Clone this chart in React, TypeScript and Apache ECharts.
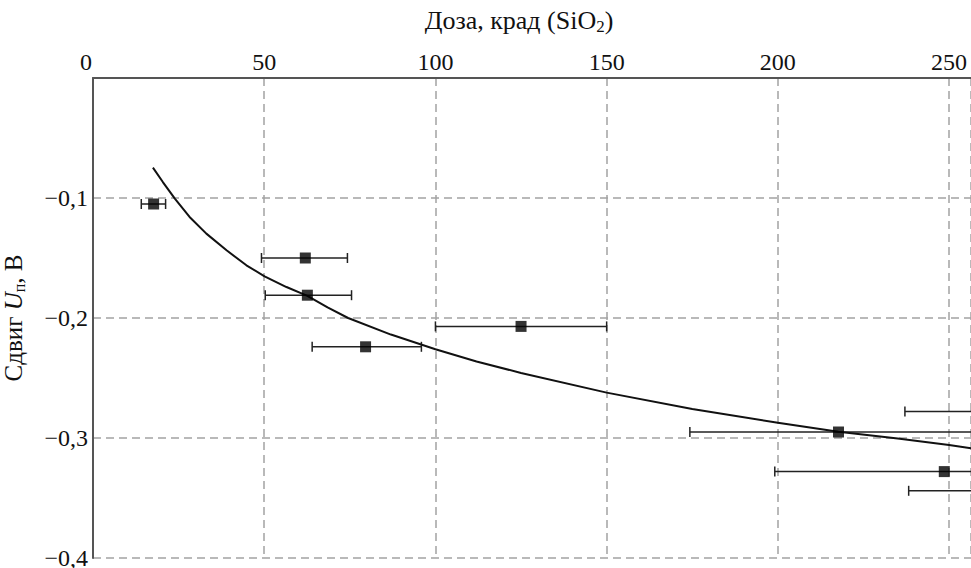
import React, { useEffect, useRef } from "react";
import * as echarts from "echarts";

// Measured points (dose, krad SiO2 ; shift, V)
const pointX = [17.7, 62.0, 62.6, 79.6, 125.0, 217.7, 248.6, 268.0, 270.0];
const pointY = [-0.105, -0.150, -0.181, -0.224, -0.207, -0.295, -0.328, -0.278, -0.344];
const errLow = [14.1, 49.2, 50.3, 64.0, 100.0, 174.3, 199.1, 237.1, 238.2];
const errHigh = [21.2, 74.3, 75.5, 95.9, 150.0, 261.0, 298.0, 299.0, 302.0];

// Fitted curve
const curveX = [17.5, 20.4, 23.9, 28.2, 33.1, 39.0, 44.8, 50.1, 56.5, 62.6, 68.5, 74.5, 87, 100, 112, 125, 150, 175, 200, 217.7, 235, 250, 256.4];
const curveY = [-0.0747, -0.0867, -0.1005, -0.1158, -0.1297, -0.1436, -0.1561, -0.1653, -0.1742, -0.1815, -0.1912, -0.2, -0.2138, -0.226, -0.2362, -0.2458, -0.2622, -0.2758, -0.2873, -0.2948, -0.3005, -0.3058, -0.3085];

const xTicks = [0, 50, 100, 150, 200, 250];
const yTicks = [-0.4, -0.3, -0.2, -0.1, 0];

const FONT = "Liberation Serif, Times New Roman, serif";

export default function App() {
  const ref = useRef<HTMLDivElement>(null);
  useEffect(() => {
    if (!ref.current) return;
    const chart = echarts.init(ref.current, null, { renderer: "svg" });
    const errData = pointX.map((x, i) => [errLow[i], errHigh[i], pointY[i]]);
    chart.setOption({
      animation: false,
      backgroundColor: "#ffffff",
      textStyle: { fontFamily: FONT },
      grid: { left: 93, top: 78, right: 0, bottom: 10, outerBoundsMode: "none", containLabel: false },
      xAxis: {
        type: "value",
        position: "top",
        min: xTicks[0],
        max: 256.4,
        interval: 50,
        name: "{a|Доза, крад (SiO}{s|2}{a|)}",
        nameLocation: "middle",
        nameGap: 43,
        nameTextStyle: {
          fontFamily: FONT,
          padding: [0, 26, 0, 0],
          rich: {
            a: { fontFamily: FONT, fontSize: 26, color: "#111", verticalAlign: "middle" },
            s: { fontFamily: FONT, fontSize: 17, color: "#111", verticalAlign: "middle", padding: [13, 0, 0, 0] },
          },
        },
        axisLine: { show: true, onZero: false, lineStyle: { color: "#555", width: 2 } },
        axisTick: { show: false },
        axisLabel: {
          showMaxLabel: false,
          margin: 4,
          fontFamily: FONT,
          fontSize: 24,
          color: "#111",
          formatter: (v: number) => {
            if (!xTicks.includes(v)) return "";
            return v === 0 ? "{z|0}" : String(v);
          },
          rich: {
            z: { fontFamily: FONT, fontSize: 24, color: "#111", padding: [0, 14, 0, 0] },
          },
        },
        splitLine: { show: true, lineStyle: { color: "#a3a3a3", width: 1.5, type: [8, 5] } },
      },
      yAxis: {
        type: "value",
        min: yTicks[0],
        max: yTicks[yTicks.length - 1],
        interval: 0.1,
        name: "{a|Сдвиг }{i|U}{s|п}{a|, В}",
        nameLocation: "middle",
        nameRotate: 90,
        nameGap: 66,
        nameTextStyle: {
          fontFamily: FONT,
          rich: {
            a: { fontFamily: FONT, fontSize: 25, color: "#111", verticalAlign: "middle" },
            i: { fontFamily: FONT, fontSize: 25, color: "#111", fontStyle: "italic", verticalAlign: "middle" },
            s: { fontFamily: FONT, fontSize: 16, color: "#111", verticalAlign: "middle", padding: [12, 0, 0, 0] },
          },
        },
        axisLine: { show: true, onZero: false, lineStyle: { color: "#555", width: 2 } },
        axisTick: { show: false },
        axisLabel: {
          margin: 5,
          fontFamily: FONT,
          fontSize: 24,
          color: "#111",
          formatter: (v: number) => {
            if (Math.abs(v) < 1e-9) return "";
            return "−" + Math.abs(v).toFixed(1).replace(".", ",");
          },
        },
        splitLine: { show: true, lineStyle: { color: "#a3a3a3", width: 1.5, type: [8, 5] } },
      },
      series: [
        {
          type: "custom",
          name: "err",
          data: errData,
          clip: true,
          z: 2,
          renderItem: (params: any, api: any) => {
            const lo = api.coord([api.value(0), api.value(2)]);
            const hi = api.coord([api.value(1), api.value(2)]);
            const h = 5;
            const style = { stroke: "#222", lineWidth: 1.5, fill: "none" };
            return {
              type: "group",
              children: [
                { type: "line", shape: { x1: lo[0], y1: lo[1], x2: hi[0], y2: hi[1] }, style },
                { type: "line", shape: { x1: lo[0], y1: lo[1] - h, x2: lo[0], y2: lo[1] + h }, style },
                { type: "line", shape: { x1: hi[0], y1: hi[1] - h, x2: hi[0], y2: hi[1] + h }, style },
              ],
            };
          },
        },
        {
          type: "line",
          name: "fit",
          data: curveX.map((x, i) => [x, curveY[i]]),
          smooth: false,
          showSymbol: false,
          symbol: "none",
          lineStyle: { color: "#111", width: 2, join: "round" },
          z: 3,
        },
        {
          type: "scatter",
          name: "points",
          data: pointX.map((x, i) => [x, pointY[i]]),
          symbol: "rect",
          symbolSize: 11,
          itemStyle: { color: "#000" },
          z: 4,
        },
      ],
    });
    return () => chart.dispose();
  }, []);
  return (
    <div
      ref={ref}
      style={{ position: "fixed", left: 0, top: 0, width: 971, height: 568, background: "#fff" }}
    />
  );
}
